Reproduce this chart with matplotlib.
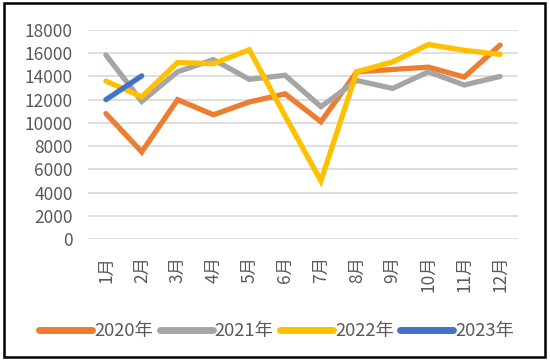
import matplotlib
matplotlib.use("Agg")
import matplotlib.pyplot as plt
from matplotlib.patches import Rectangle

plt.rcParams['font.family'] = ['Noto Sans CJK SC', 'DejaVu Sans']

months = ["1月", "2月", "3月", "4月", "5月", "6月", "7月", "8月", "9月", "10月", "11月", "12月"]
y2020 = [10800, 7500, 12000, 10700, 11800, 12500, 10100, 14400, 14600, 14800, 13950, 16700]
y2021 = [15850, 11850, 14400, 15450, 13750, 14100, 11400, 13650, 12970, 14400, 13260, 14000]
y2022 = [13600, 12250, 15200, 15100, 16300, 10600, 5000, 14400, 15250, 16750, 16250, 15900]
y2023 = [12000, 14050]

series = [
    ("2020年", y2020, "#ED7D31"),
    ("2021年", y2021, "#A5A5A5"),
    ("2022年", y2022, "#FFC000"),
    ("2023年", y2023, "#4472C4"),
]

text_color = "#595959"

fig = plt.figure(figsize=(5.5, 3.6), dpi=100)
ax = fig.add_axes([88 / 550, 1 - 239 / 360, 430 / 550, 209 / 360])

x = list(range(len(months)))
for name, vals, color in series:
    ax.plot(x[:len(vals)], vals, color=color, linewidth=3.8, label=name,
            solid_capstyle="round", solid_joinstyle="miter", zorder=3)

ax.set_xlim(-0.5, len(months) - 0.5)
ax.set_ylim(0, 18000)
ax.set_yticks(range(0, 18001, 2000))
ax.set_xticks(x)
ax.set_xticklabels(months, rotation=90, va="top", ha="center")
ax.grid(axis="y", color="#D9D9D9", linewidth=1.2, zorder=0)
for s in ax.spines.values():
    s.set_visible(False)
ax.tick_params(axis="both", length=0, labelsize=12.5, colors=text_color)
ax.tick_params(axis="y", pad=11)
ax.tick_params(axis="x", pad=12)

leg = fig.legend(loc="center", bbox_to_anchor=(0.503, 1 - 331 / 360), ncol=4,
                 frameon=False, fontsize=13.2, handlelength=2.9,
                 handletextpad=0.1, columnspacing=0.35, borderaxespad=0)
for t in leg.get_texts():
    t.set_color(text_color)
for h in leg.get_lines():
    h.set_linewidth(5)

fig.patches.append(Rectangle((4 / 550, 3 / 360), 541 / 550, 354 / 360,
                             transform=fig.transFigure, fill=False,
                             edgecolor="black", linewidth=1.8))

fig.savefig("out.png", dpi=100)
